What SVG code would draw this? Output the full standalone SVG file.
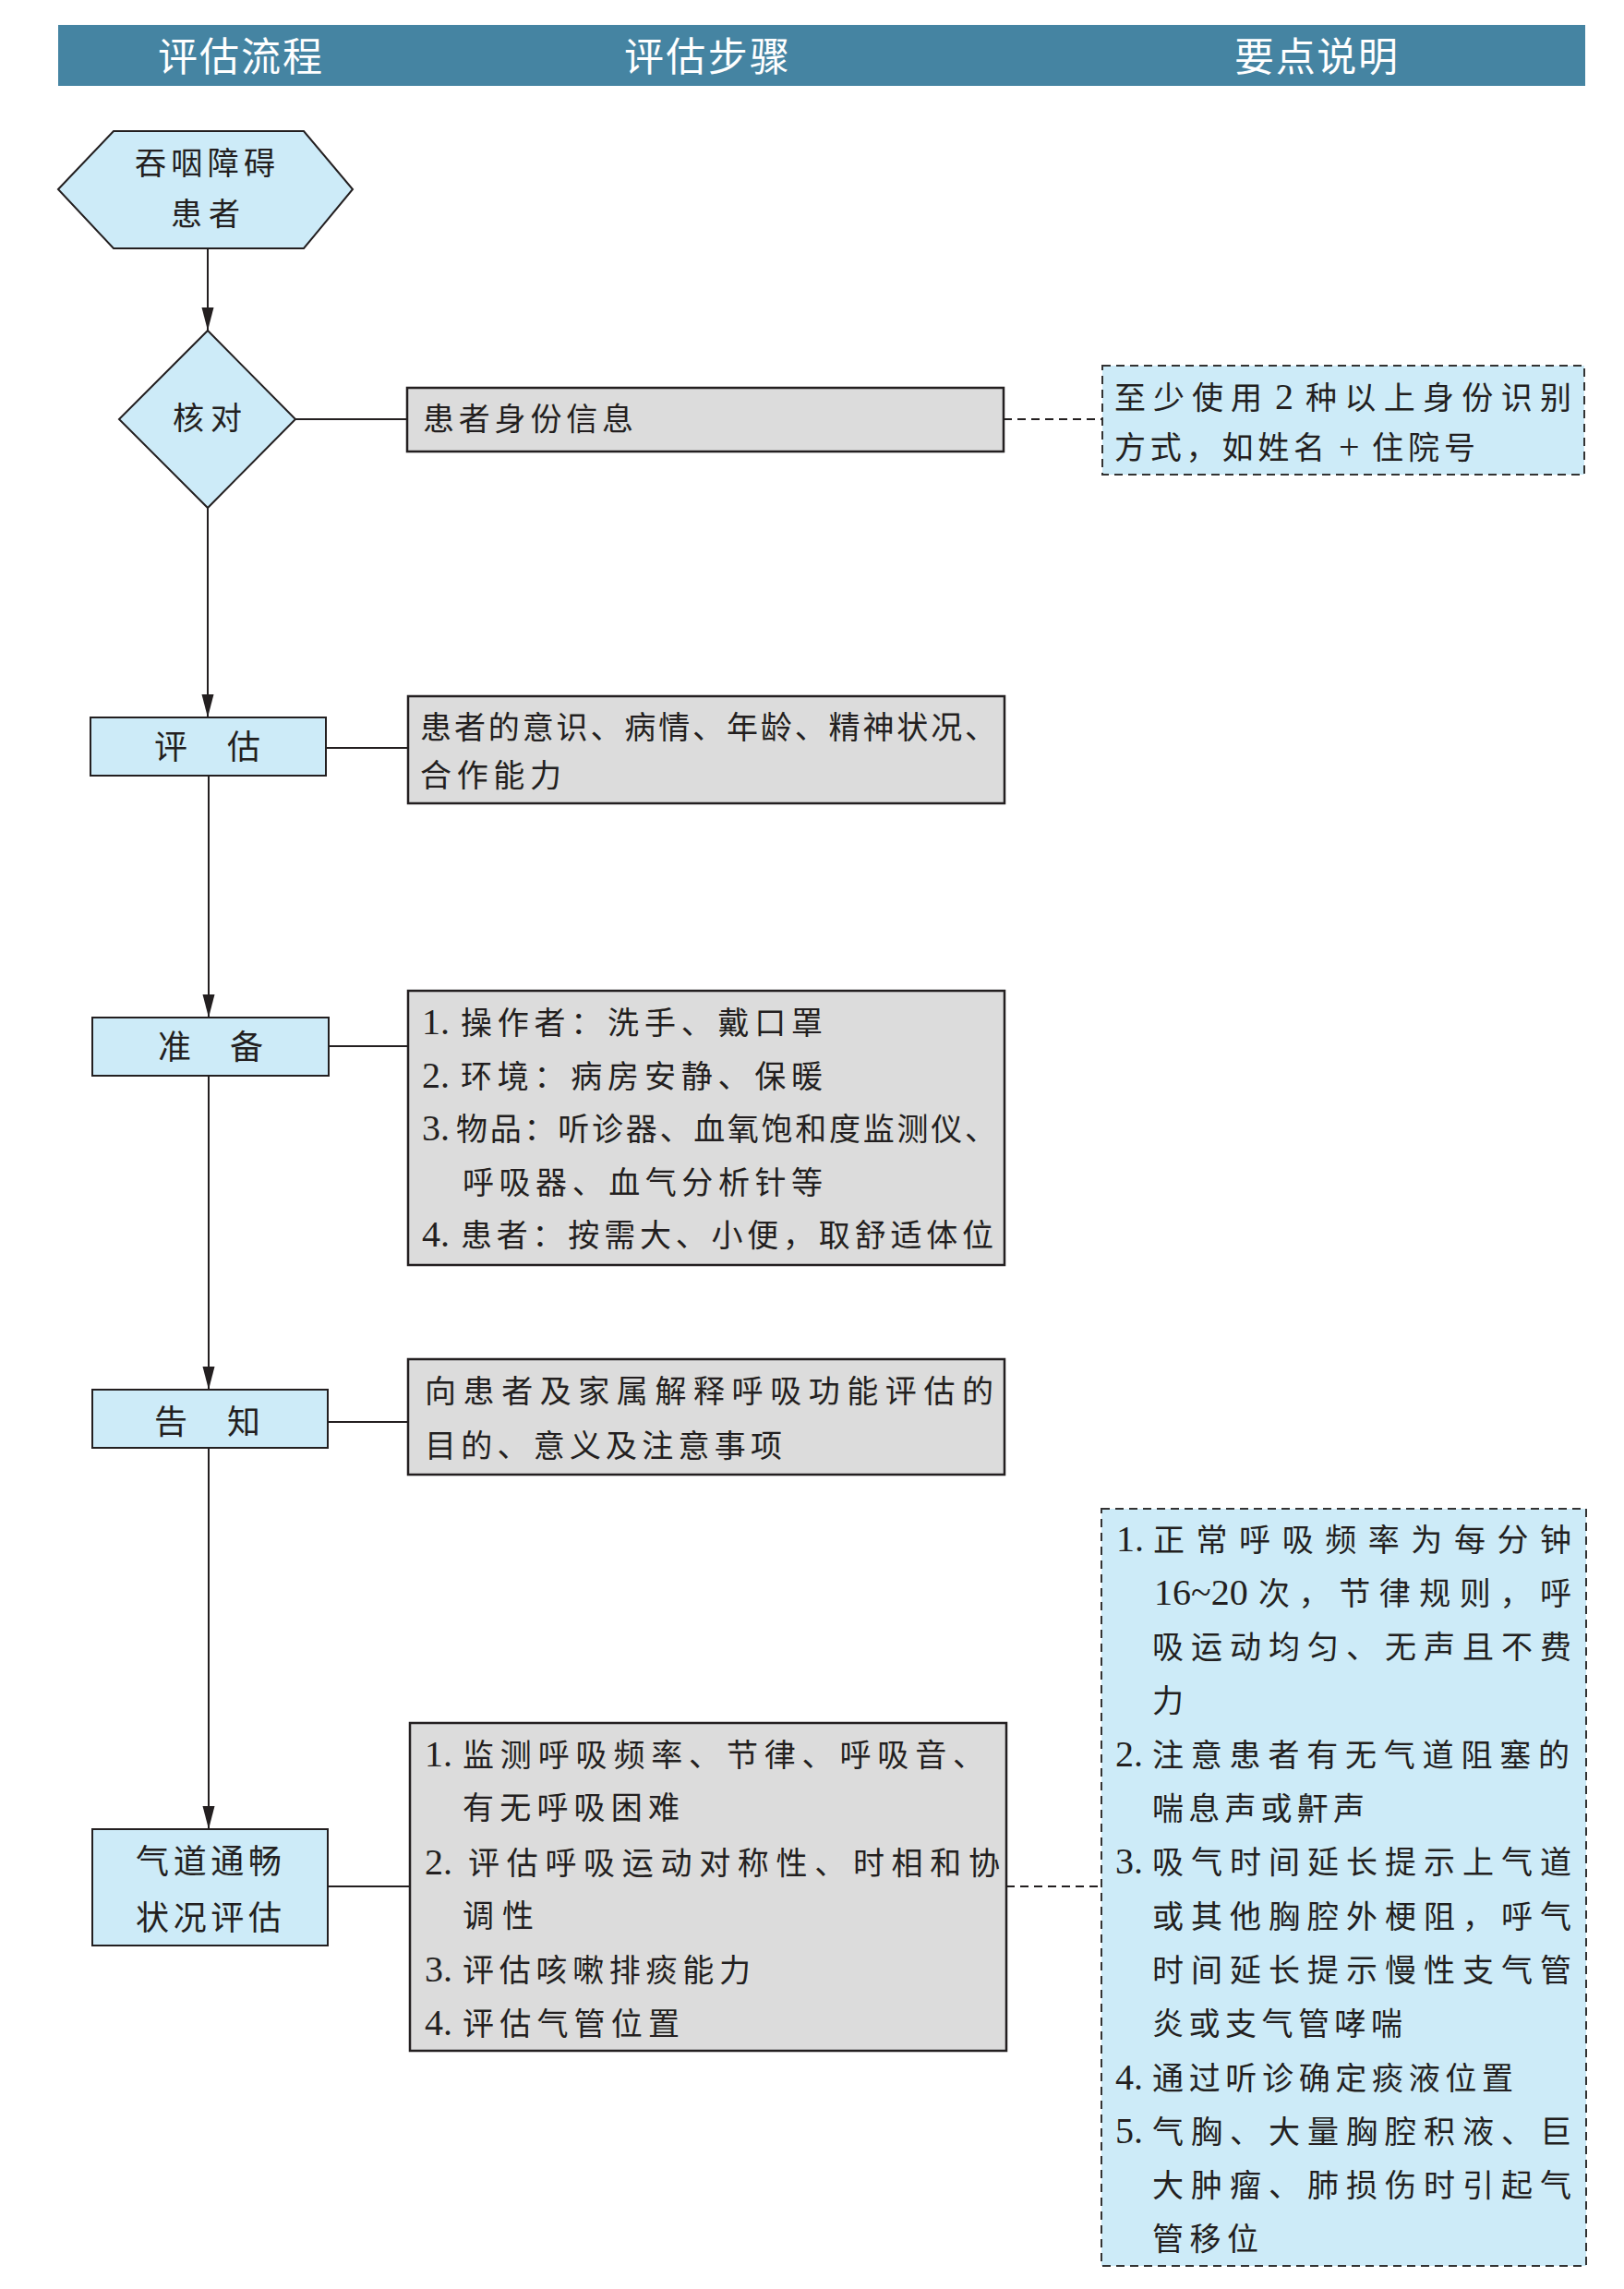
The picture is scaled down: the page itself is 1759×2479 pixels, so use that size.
<svg xmlns="http://www.w3.org/2000/svg" width="1759" height="2479" viewBox="0 0 1759 2479">
<style>
.t{font-family:"Liberation Serif","Noto Sans CJK SC",serif;font-size:34px;fill:#231F20}
.n{font-size:40px}
.l{font-size:36px}
.h{font-family:"Noto Sans CJK SC",sans-serif;font-size:43px;fill:#FFFFFF}
.blue{fill:#CDEBF8;stroke:#231F20;stroke-width:2}
.gray{fill:#DCDCDC;stroke:#231F20;stroke-width:2.5}
.note{fill:#CDEBF8;stroke:#333333;stroke-width:2;stroke-dasharray:9 6}
.c{fill:none;stroke:#231F20;stroke-width:2}
.d{fill:none;stroke:#231F20;stroke-width:2;stroke-dasharray:9 6}
</style>
<defs>
<marker id="ah" markerUnits="userSpaceOnUse" markerWidth="26" markerHeight="14" refX="25" refY="6.5" orient="auto">
<path d="M0,0 L25,6.5 L0,13 z" fill="#231F20"/>
</marker>
</defs>
<rect width="1759" height="2479" fill="#FFFFFF"/>

<g id="header">
<rect x="63" y="27" width="1654" height="66" fill="#4584A2"/>
<text class="h" x="171" y="77" textLength="178" lengthAdjust="spacing">评估流程</text>
<text class="h" x="676" y="77" textLength="179" lengthAdjust="spacing">评估步骤</text>
<text class="h" x="1337" y="77" textLength="177" lengthAdjust="spacing">要点说明</text>
</g>

<g id="connectors">
<path class="c" d="M225,269 V358" marker-end="url(#ah)"/>
<path class="c" d="M225,550 V777" marker-end="url(#ah)"/>
<path class="c" d="M226,840 V1102" marker-end="url(#ah)"/>
<path class="c" d="M226,1165 V1505" marker-end="url(#ah)"/>
<path class="c" d="M226,1568 V1981" marker-end="url(#ah)"/>
<path class="c" d="M320,454 H441"/>
<path class="c" d="M353,810 H442"/>
<path class="c" d="M356,1133 H442"/>
<path class="c" d="M355,1540 H442"/>
<path class="c" d="M355,2043 H444"/>
<path class="d" d="M1087,454 H1194"/>
<path class="d" d="M1090,2043 H1193"/>
</g>

<g id="start">
<polygon class="blue" points="63,205 123,142 329,142 382,205 329,269 123,269"/>
<text class="t" x="146" y="189" textLength="152" lengthAdjust="spacing">吞咽障碍</text>
<text class="t" x="185" y="244" textLength="75" lengthAdjust="spacing">患者</text>
</g>

<g id="verify">
<polygon class="blue" points="225,358 320,454 225,550 129,454"/>
<text class="t" x="187" y="465" textLength="75" lengthAdjust="spacing">核对</text>
</g>

<g id="identity">
<rect class="gray" x="441" y="420" width="646" height="69"/>
<text class="t" x="458" y="466" textLength="228" lengthAdjust="spacing">患者身份信息</text>
</g>

<g id="identity-note">
<rect class="note" x="1194" y="396" width="522" height="118"/>
<text class="t" x="1207" y="443" textLength="160" lengthAdjust="spacing">至少使用</text>
<text class="t n" x="1381" y="443">2</text>
<text class="t" x="1414" y="443" textLength="288" lengthAdjust="spacing">种以上身份识别</text>
<text class="t" x="1207" y="497" textLength="228" lengthAdjust="spacing">方式，如姓名</text>
<text class="t n" x="1450" y="497">+</text>
<text class="t" x="1486" y="497" textLength="112" lengthAdjust="spacing">住院号</text>
</g>

<g id="assess">
<rect class="blue" x="98" y="777" width="255" height="63"/>
<text class="t l" x="167" y="822" textLength="115" lengthAdjust="spacing">评　估</text>
</g>

<g id="assess-detail">
<rect class="gray" x="442" y="754" width="646" height="116"/>
<text class="t" x="455" y="800" textLength="624" lengthAdjust="spacing">患者的意识、病情、年龄、精神状况、</text>
<text class="t" x="455" y="851.5" textLength="153" lengthAdjust="spacing">合作能力</text>
</g>

<g id="prepare">
<rect class="blue" x="100" y="1102" width="256" height="63"/>
<text class="t l" x="171" y="1147" textLength="114" lengthAdjust="spacing">准　备</text>
</g>

<g id="prepare-detail">
<rect class="gray" x="442" y="1073" width="646" height="297"/>
<text class="t n" x="457" y="1120">1.</text>
<text class="t" x="499" y="1120" textLength="392" lengthAdjust="spacing">操作者：洗手、戴口罩</text>
<text class="t n" x="457" y="1177.5">2.</text>
<text class="t" x="499" y="1177.5" textLength="392" lengthAdjust="spacing">环境：病房安静、保暖</text>
<text class="t n" x="457" y="1235">3.</text>
<text class="t" x="494" y="1235" textLength="585" lengthAdjust="spacing">物品：听诊器、血氧饱和度监测仪、</text>
<text class="t" x="501" y="1292.5" textLength="390" lengthAdjust="spacing">呼吸器、血气分析针等</text>
<text class="t n" x="457" y="1350">4.</text>
<text class="t" x="499" y="1350" textLength="577" lengthAdjust="spacing">患者：按需大、小便，取舒适体位</text>
</g>

<g id="inform">
<rect class="blue" x="100" y="1505" width="255" height="63"/>
<text class="t l" x="167" y="1553" textLength="115" lengthAdjust="spacing">告　知</text>
</g>

<g id="inform-detail">
<rect class="gray" x="442" y="1472" width="646" height="125"/>
<text class="t" x="460" y="1518.5" textLength="616" lengthAdjust="spacing">向患者及家属解释呼吸功能评估的</text>
<text class="t" x="460" y="1577.5" textLength="387" lengthAdjust="spacing">目的、意义及注意事项</text>
</g>

<g id="airway">
<rect class="blue" x="100" y="1981" width="255" height="126"/>
<text class="t l" x="147" y="2029" textLength="158" lengthAdjust="spacing">气道通畅</text>
<text class="t l" x="147" y="2090" textLength="158" lengthAdjust="spacing">状况评估</text>
</g>

<g id="airway-detail">
<rect class="gray" x="444" y="1866" width="646" height="355"/>
<text class="t n" x="460" y="1912.5">1.</text>
<text class="t" x="501" y="1912.5" textLength="565" lengthAdjust="spacing">监测呼吸频率、节律、呼吸音、</text>
<text class="t" x="501" y="1969.5" textLength="235" lengthAdjust="spacing">有无呼吸困难</text>
<text class="t n" x="460" y="2029.5">2.</text>
<text class="t" x="507" y="2029.5" textLength="576" lengthAdjust="spacing">评估呼吸运动对称性、时相和协</text>
<text class="t" x="501" y="2086.5" textLength="77" lengthAdjust="spacing">调性</text>
<text class="t n" x="460" y="2145.5">3.</text>
<text class="t" x="501" y="2145.5" textLength="312" lengthAdjust="spacing">评估咳嗽排痰能力</text>
<text class="t n" x="460" y="2203.5">4.</text>
<text class="t" x="501" y="2203.5" textLength="235" lengthAdjust="spacing">评估气管位置</text>
</g>

<g id="airway-note">
<rect class="note" x="1193" y="1634" width="525" height="820"/>
<text class="t n" x="1209" y="1679.5">1.</text>
<text class="t" x="1249" y="1679.5" textLength="453" lengthAdjust="spacing">正常呼吸频率为每分钟</text>
<text class="t n" x="1250" y="1737.8">16~20</text>
<text class="t" x="1363" y="1737.8" textLength="339" lengthAdjust="spacing">次，节律规则，呼</text>
<text class="t" x="1248" y="1796.1" textLength="454" lengthAdjust="spacing">吸运动均匀、无声且不费</text>
<text class="t" x="1248" y="1854.4">力</text>
<text class="t n" x="1208" y="1912.7">2.</text>
<text class="t" x="1248" y="1912.7" textLength="452" lengthAdjust="spacing">注意患者有无气道阻塞的</text>
<text class="t" x="1248" y="1971" textLength="230" lengthAdjust="spacing">喘息声或鼾声</text>
<text class="t n" x="1208" y="2029.3">3.</text>
<text class="t" x="1248" y="2029.3" textLength="454" lengthAdjust="spacing">吸气时间延长提示上气道</text>
<text class="t" x="1248" y="2087.6" textLength="454" lengthAdjust="spacing">或其他胸腔外梗阻，呼气</text>
<text class="t" x="1248" y="2145.9" textLength="454" lengthAdjust="spacing">时间延长提示慢性支气管</text>
<text class="t" x="1248" y="2204.2" textLength="271" lengthAdjust="spacing">炎或支气管哮喘</text>
<text class="t n" x="1208" y="2262.5">4.</text>
<text class="t" x="1248" y="2262.5" textLength="391" lengthAdjust="spacing">通过听诊确定痰液位置</text>
<text class="t n" x="1208" y="2320.8">5.</text>
<text class="t" x="1248" y="2320.8" textLength="454" lengthAdjust="spacing">气胸、大量胸腔积液、巨</text>
<text class="t" x="1248" y="2379.1" textLength="454" lengthAdjust="spacing">大肿瘤、肺损伤时引起气</text>
<text class="t" x="1248" y="2437.4" textLength="115" lengthAdjust="spacing">管移位</text>
</g>
</svg>
